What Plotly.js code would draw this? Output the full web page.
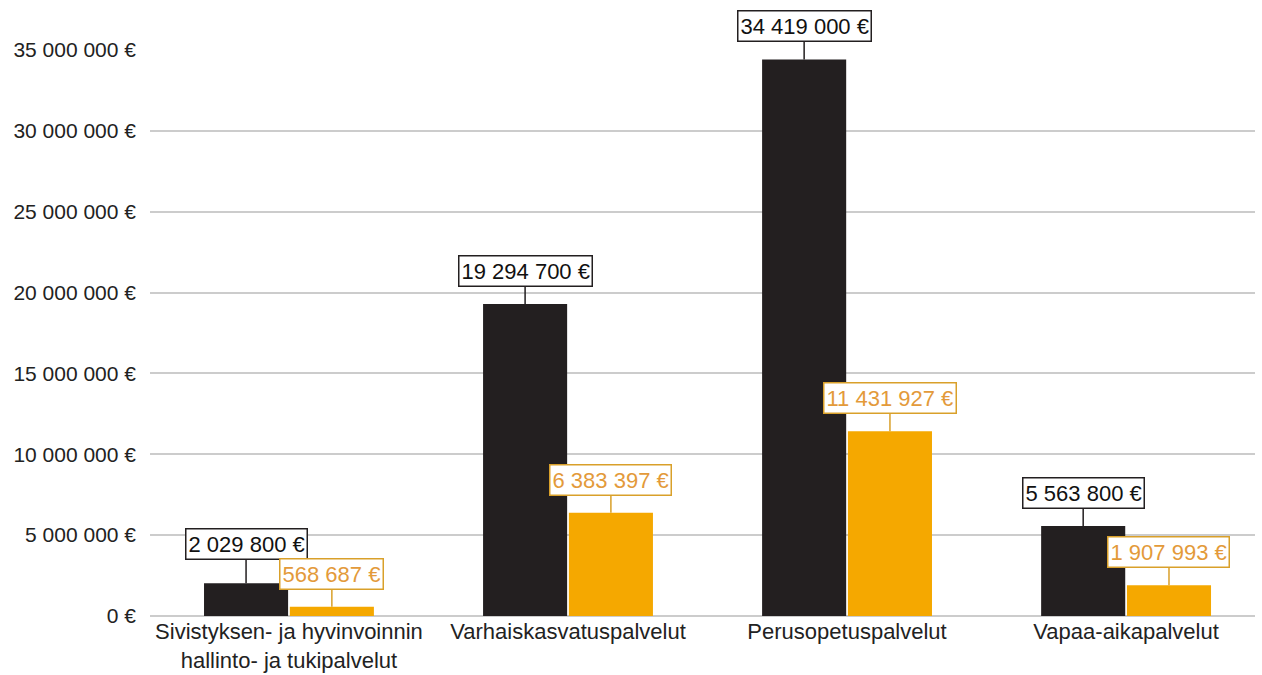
<!DOCTYPE html>
<html>
<head>
<meta charset="utf-8">
<script src="https://cdn.plot.ly/plotly-3.0.1.min.js"></script>
<style>
  html, body { margin: 0; padding: 0; background: #fff; }
  #chart { width: 1262px; height: 675px; }
</style>
</head>
<body>
<div id="chart"></div>
<script>
// categories and values (euros)
const categories = [
  "Sivistyksen- ja hyvinvoinnin<br>hallinto- ja tukipalvelut",
  "Varhaiskasvatuspalvelut",
  "Perusopetuspalvelut",
  "Vapaa-aikapalvelut"
];
const darkValues = [2029800, 19294700, 34419000, 5563800];
const orangeValues = [568687, 6383397, 11431927, 1907993];

const darkColor = "#231f20";
const orangeColor = "#f5a800";
const bargap = 0.385;
const fontFamily = "Liberation Sans, Arial, sans-serif";

const fmt = (v) => String(v).replace(/\B(?=(\d{3})+(?!\d))/g, " ") + " €";

const traces = [
  { type: "bar", x: categories, y: darkValues, marker: { color: darkColor },
    hoverinfo: "skip", showlegend: false },
  { type: "bar", x: categories, y: orangeValues, marker: { color: orangeColor },
    hoverinfo: "skip", showlegend: false }
];

// label boxes with leader lines
const slot = (1 - bargap) / 2;
const annotations = [];
darkValues.forEach((v, i) => {
  annotations.push({
    x: i - slot / 2, y: v, xref: "x", yref: "y", text: fmt(v),
    showarrow: true, arrowhead: 0, arrowwidth: 1.5, arrowcolor: "#231f20",
    ax: 0, ay: i === 0 ? -39 : -33,
    bgcolor: "#ffffff", bordercolor: "#231f20", borderwidth: 1.5, borderpad: 2,
    font: { family: fontFamily, size: 22, color: "#111111" }
  });
});
orangeValues.forEach((v, i) => {
  annotations.push({
    x: i + slot / 2, y: v, xref: "x", yref: "y", text: fmt(v),
    showarrow: true, arrowhead: 0, arrowwidth: 1.5, arrowcolor: "#d9a02a",
    ax: 0, ay: -33,
    bgcolor: "#ffffff", bordercolor: "#d9a02a", borderwidth: 1.5, borderpad: 2,
    font: { family: fontFamily, size: 22, color: "#e39a3a" }
  });
});

const layout = {
  width: 1262, height: 675,
  margin: { l: 150, r: 7, t: 50, b: 59 },
  paper_bgcolor: "#ffffff", plot_bgcolor: "#ffffff",
  font: { family: fontFamily, size: 21, color: "#222222" },
  separators: ", ",
  barmode: "group", bargap: bargap, bargroupgap: 0.02,
  xaxis: {
    type: "category", range: [-0.498, 3.462],
    showgrid: false, zeroline: false, showline: false, ticks: "",
    tickfont: { size: 22, color: "#222222" }
  },
  yaxis: {
    range: [0, 35000000], dtick: 5000000, tickformat: ",d", ticksuffix: " €",
    showgrid: true, gridcolor: "#cccccc", gridwidth: 1.5,
    zeroline: true, zerolinecolor: "#cccccc", zerolinewidth: 1.5,
    showline: false, ticks: "", ticklabelstandoff: 13,
    tickfont: { size: 21, color: "#222222" }
  },
  annotations: annotations
};

Plotly.newPlot("chart", traces, layout, { displayModeBar: false, responsive: false });
</script>
</body>
</html>
